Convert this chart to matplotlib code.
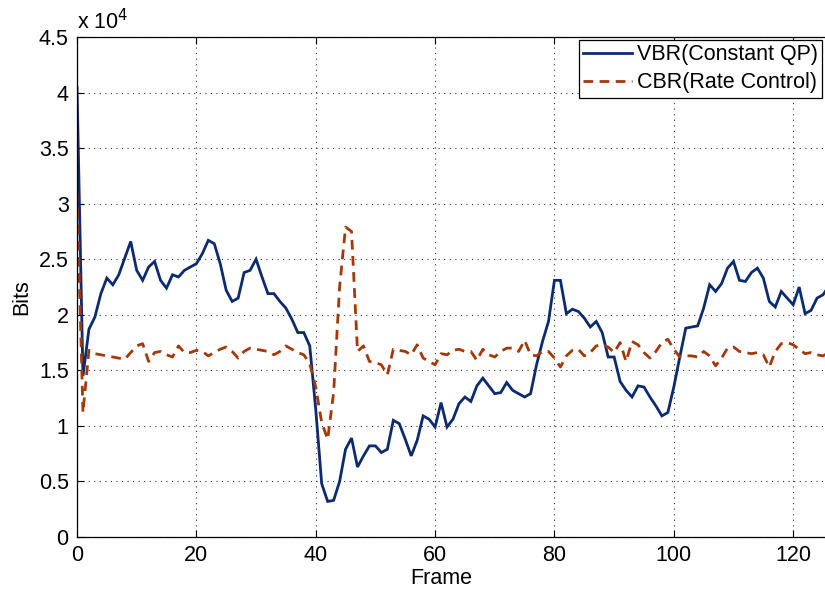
import matplotlib
matplotlib.use("Agg")
import matplotlib.pyplot as plt
from matplotlib.ticker import FuncFormatter, MultipleLocator

plt.rcParams['font.family'] = ['Liberation Sans', 'DejaVu Sans']

# Bits per frame for each encoding mode
vbr_bits = [
    40500, 14500, 18700, 19800, 21900, 23300, 22700, 23600, 25100, 26600,
    24000, 23100, 24300, 24800, 23100, 22400, 23600, 23400, 24000, 24300,
    24600, 25500, 26700, 26400, 24600, 22200, 21200, 21500, 23800, 24000,
    25000, 23400, 21900, 21900, 21200, 20600, 19600, 18400, 18400, 17200,
    11500, 4800, 3200, 3300, 5000, 7900, 8900, 6300, 7300, 8200,
    8200, 7600, 7900, 10500, 10200, 8800, 7300, 8700, 10900, 10600,
    9900, 12100, 9900, 10600, 12000, 12600, 12200, 13600, 14300, 13600,
    12900, 13000, 13900, 13200, 12900, 12600, 12900, 15500, 17600, 19400,
    23100, 23100, 20100, 20500, 20300, 19700, 18900, 19400, 18400, 16200,
    16200, 14000, 13200, 12600, 13600, 13500, 12600, 11800, 10900, 11200,
    13500, 16200, 18800, 18900, 19000, 20600, 22700, 22100, 22800, 24200,
    24800, 23100, 23000, 23800, 24200, 23300, 21200, 20700, 22100, 21500,
    20900, 22500, 20100, 20400, 21500, 21800, 22600,
]
cbr_bits = [
    31000, 11200, 16800, 16500, 16400, 16300, 16200, 16100, 16000, 16600,
    17200, 17400, 15800, 16600, 16700, 16400, 16200, 17200, 16600, 16600,
    16800, 16700, 16300, 16600, 16900, 17100, 16700, 16100, 16700, 17000,
    16900, 16800, 16700, 16400, 16700, 17200, 16900, 16600, 16400, 15600,
    13500, 10300, 8800, 13000, 22500, 27900, 27500, 16700, 17200, 15800,
    15700, 15500, 14600, 16900, 16800, 16700, 16400, 17300, 16100, 15800,
    15500, 16500, 16400, 16800, 16900, 16700, 16700, 15900, 16900, 16400,
    16200, 16700, 17000, 17000, 16700, 17700, 16400, 16300, 16700, 16700,
    16100, 15300, 16300, 16800, 16900, 16300, 16600, 17200, 17300, 17100,
    16600, 17500, 15800, 17600, 17300, 16600, 16100, 16700, 17500, 17800,
    16900, 16200, 16300, 16300, 16200, 16700, 16300, 15400, 16100, 17000,
    17100, 16700, 16600, 16500, 16600, 16400, 15300, 16700, 17400, 17500,
    17300, 16900, 16500, 16600, 16400, 16300, 16600,
]
frames = list(range(len(vbr_bits)))
series_labels = ["VBR(Constant QP)", "CBR(Rate Control)"]

W, H = 825, 592
fig = plt.figure(figsize=(W / 100, H / 100), dpi=100)
ax = fig.add_axes([77 / W, 55 / H, (826 - 77) / W, 500 / H])

fs = 15.5
ax.plot(frames, vbr_bits, color="#0c2a6f", lw=2.0, label=series_labels[0],
        solid_joinstyle="miter")
ax.plot(frames, cbr_bits, color="#a3380b", lw=2.0, ls=(0, (3.5, 2.3)),
        label=series_labels[1])

ax.set_xlim(0, 125.5)
ax.set_ylim(0, 45000)
ax.xaxis.set_major_locator(MultipleLocator(20))
ax.yaxis.set_major_locator(MultipleLocator(5000))
ax.yaxis.set_major_formatter(FuncFormatter(lambda v, p: f"{v / 1e4:g}"))

ax.grid(True, color="#333333", ls=(0, (1, 4)), lw=0.8)
ax.tick_params(direction="in", length=5, width=0.8, labelsize=fs,
               top=True, right=False, pad=6)
ax.spines["right"].set_visible(False)
for s in ("left", "top", "bottom"):
    ax.spines[s].set_linewidth(0.9)

ax.set_xlabel("Frame", fontsize=fs)
ax.set_ylabel("Bits", fontsize=fs)
ax.xaxis.set_label_coords((441 - 77) / (826 - 77), -0.062)
ax.yaxis.set_label_coords(-0.06, 0.48)

ax.text(0.0, 1.005, r"x 10$^{4}$", transform=ax.transAxes, fontsize=fs,
        ha="left", va="bottom")

leg = ax.legend(loc="upper right", bbox_to_anchor=(822 / W, 1 - 40 / H),
                bbox_transform=fig.transFigure, borderaxespad=0,
                fontsize=fs, fancybox=False, framealpha=1, edgecolor="black",
                handlelength=2.3, handletextpad=0.2, labelspacing=0.32,
                borderpad=0.2)
leg.get_frame().set_linewidth(0.9)

fig.savefig("out.png", dpi=100)
